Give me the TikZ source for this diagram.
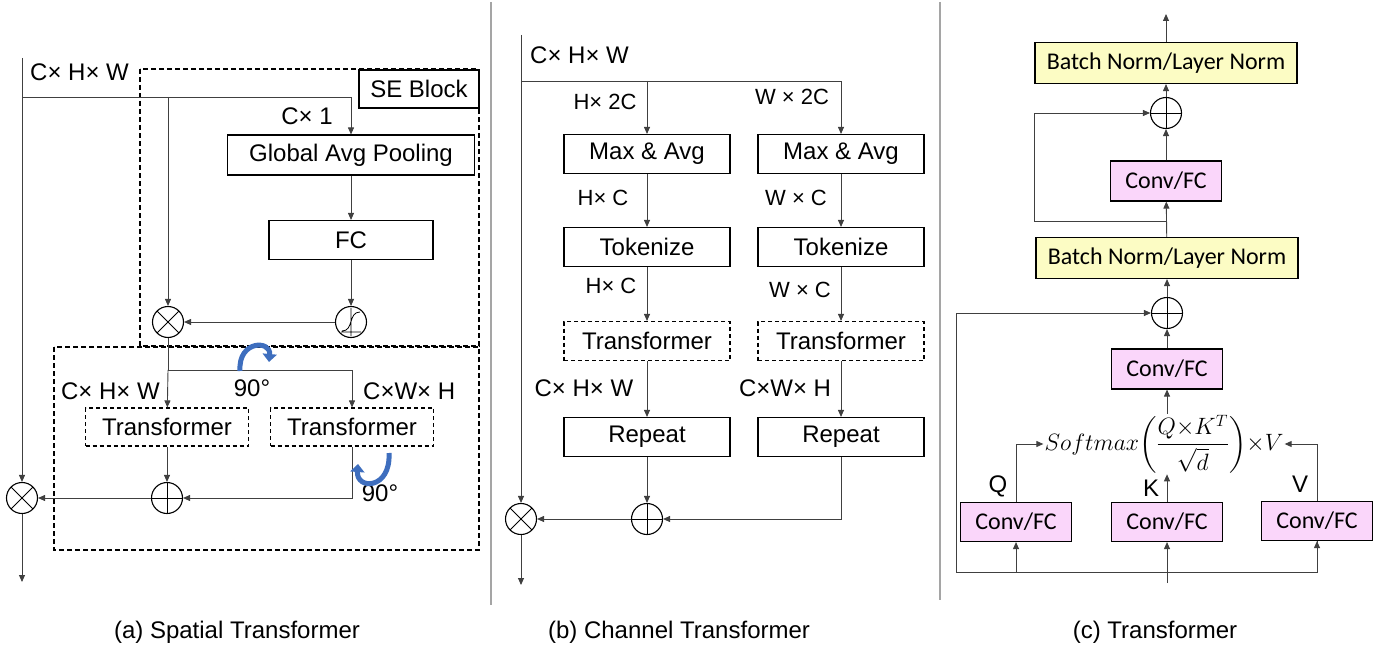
\documentclass[tikz,border=0pt]{standalone}
\usepackage{amsmath}
\usepackage{fontspec}
\setmainfont{Liberation Sans}
\newfontfamily\calibrifont{Carlito}
\usepackage{xcolor}
\usetikzlibrary{arrows.meta, positioning, calc}
\definecolor{yellowfill}{RGB}{252,252,196}
\definecolor{pinkfill}{RGB}{250,214,250}
\definecolor{rotblue}{RGB}{62,110,190}
\definecolor{sepgray}{RGB}{165,165,165}
\tikzset{
    >={Triangle[length=7pt,width=6pt]},
    link/.style={draw=black!75, line width=0.9pt},
    block/.style={draw, line width=1.1pt, rectangle, minimum height=39pt, minimum width=166pt, inner sep=0pt, font=\fontsize{24}{28}\selectfont},
    tblock/.style={block, dash pattern=on 4pt off 3pt},
    nblock/.style={block, fill=yellowfill, minimum width=262pt, minimum height=41pt, font=\calibrifont\fontsize{24}{28}\selectfont},
    cblock/.style={block, fill=pinkfill, minimum width=111pt, minimum height=40pt, font=\calibrifont\fontsize{24}{28}\selectfont},
    dimlbl/.style={inner sep=0pt, font=\fontsize{24}{28}\selectfont},
    sdimlbl/.style={inner sep=0pt, font=\fontsize{22}{26}\selectfont},
    opnode/.style={draw, circle, line width=1.1pt, minimum size=31pt, inner sep=0pt},
    addop/.style={opnode, path picture={\draw[line width=0.8pt] (path picture bounding box.north) -- (path picture bounding box.south) (path picture bounding box.west) -- (path picture bounding box.east);}},
    mulop/.style={opnode, path picture={\draw[line width=0.8pt] (path picture bounding box.north west) -- (path picture bounding box.south east) (path picture bounding box.north east) -- (path picture bounding box.south west);}},
    rotarrow/.style={draw=rotblue, line width=5pt, -{Triangle[length=8pt,width=14pt]}},
    seframe/.style={dash pattern=on 5pt off 3pt, line width=1.1pt},
    caption/.style={font=\fontsize{24}{28}\selectfont},
}

\begin{document}
\begin{tikzpicture}[x=1pt, y=-1pt]
    \useasboundingbox (0,0) rectangle (1380,650);

    % panel separators
    \draw[sepgray, line width=1.2pt] (491,2) -- (491,605);
    \draw[sepgray, line width=1.2pt] (940,2) -- (940,600);

    %% (a) spatial transformer
    \draw[seframe] (140,69) rectangle (479,346);
    \draw[seframe] (54,347) rectangle (479,550);
    \node[block, minimum width=120pt, minimum height=38pt] (seb) at (419,89) {SE Block};
    \node[block, minimum width=247pt, minimum height=40pt] (gap) at (351,155) {Global Avg Pooling};
    \node[block, minimum width=164pt] (fc) at (351,240) {FC};
    \node[opnode] (sig) at (351,322) {};
    \draw[line width=0.8pt, shift={(sig)}] (-10,10) -- (10,10) (0,-14) -- (0,14)
        (-9,9) .. controls (3,9) and (-3,-10) .. (9,-10);
    \node[mulop] (semul) at (168,322) {};
    \node[tblock, minimum width=163pt, minimum height=38pt] (atr1) at (167,427) {Transformer};
    \node[tblock, minimum width=163pt, minimum height=38pt] (atr2) at (352,427) {Transformer};
    \node[addop] (aadd) at (167,498) {};
    \node[mulop] (amul) at (22,498) {};
    \coordinate (ain) at (22,58);
    \coordinate (asplit) at (22,97);
    \coordinate (arot) at (168,370);
    \coordinate (aout) at (22,582);

    \node[dimlbl, anchor=west] (adim1) at (30,72) {C× H× W};
    \node[dimlbl] (adim2) at (307,116) {C× 1};
    \node[dimlbl, anchor=east] (adim3) at (160,391) {C× H× W};
    \node[dimlbl, anchor=west] (adim4) at (363,391) {C×W× H};
    \node[dimlbl] (arot1) at (252,388) {90°};
    \node[dimlbl] (arot2) at (380,493) {90°};

    \draw[link, ->] (ain) -- (amul);
    \draw[link, ->] (asplit) -| (gap);
    \draw[link, ->] (semul |- asplit) -- (semul);
    \draw[link, ->] (gap) -- (fc);
    \draw[link, ->] (fc) -- (sig);
    \draw[link, ->] (sig) -- (semul);
    \draw[link] (semul) -- (arot);
    \draw[link, ->] (arot) -- (atr1);
    \draw[link, ->] (arot) -| (atr2);
    \draw[link, ->] (atr1) -- (aadd);
    \draw[link, ->] (atr2) |- (aadd);
    \draw[link, ->] (aadd) -- (amul);
    \draw[link, ->] (amul) -- (aout);
    \draw[rotarrow] (240,371) .. controls (238,340) and (271,340) .. (269,362);
    \draw[rotarrow] (389,453) .. controls (391,490) and (356,490) .. (358,464);

    %% (b) channel transformer
    \node[block] (bmax1) at (647,154) {Max \& Avg};
    \node[block] (bmax2) at (841,154) {Max \& Avg};
    \node[block] (btok1) at (647,247) {Tokenize};
    \node[block] (btok2) at (841,247) {Tokenize};
    \node[tblock] (btr1) at (647,341) {Transformer};
    \node[tblock] (btr2) at (841,341) {Transformer};
    \node[block] (brep1) at (647,437) {Repeat};
    \node[block] (brep2) at (841,437) {Repeat};
    \node[addop] (badd) at (647,519) {};
    \node[mulop] (bmul) at (521,519) {};
    \coordinate (bin) at (521,35);
    \coordinate (bsplit) at (521,81);
    \coordinate (bout) at (521,585);

    \node[dimlbl, anchor=west] (bdim1) at (530,55) {C× H× W};
    \node[sdimlbl] (bdim2) at (605,102) {H× 2C};
    \node[sdimlbl] (bdim3) at (792,97) {W × 2C};
    \node[sdimlbl] (bdim4) at (603,198) {H× C};
    \node[sdimlbl] (bdim5) at (796,198) {W × C};
    \node[sdimlbl] (bdim6) at (611,286) {H× C};
    \node[sdimlbl] (bdim7) at (800,290) {W × C};
    \node[dimlbl] (bdim8) at (584,388) {C× H× W};
    \node[dimlbl] (bdim9) at (785,388) {C×W× H};

    \draw[link, ->] (bin) -- (bmul);
    \draw[link, ->] (bsplit) -| (bmax2);
    \draw[link, ->] (bmax1 |- bsplit) -- (bmax1);
    \draw[link, ->] (bmax1) -- (btok1);
    \draw[link, ->] (bmax2) -- (btok2);
    \draw[link, ->] (btok1) -- (btr1);
    \draw[link, ->] (btok2) -- (btr2);
    \draw[link, ->] (btr1) -- (brep1);
    \draw[link, ->] (btr2) -- (brep2);
    \draw[link, ->] (brep1) -- (badd);
    \draw[link, ->] (brep2) |- (badd);
    \draw[link, ->] (badd) -- (bmul);
    \draw[link, ->] (bmul) -- (bout);

    %% (c) transformer
    \node[nblock] (cbn1) at (1166,63) {Batch Norm/Layer Norm};
    \node[addop] (cadd1) at (1166,113) {};
    \node[cblock] (cfc1) at (1166,181) {Conv/FC};
    \node[nblock] (cbn2) at (1167,258) {Batch Norm/Layer Norm};
    \node[addop] (cadd2) at (1167,313) {};
    \node[cblock] (cfc2) at (1167,369) {Conv/FC};
    \node[inner sep=1pt, font=\fontsize{24}{28}\selectfont] (att) at (1164,444)
        {\scalebox{0.95}{$Softmax\!\left(\dfrac{Q{\times}K^{T}}{\sqrt{d}}\right)\!{\times}V$}};
    \node[cblock, minimum height=39pt] (cq) at (1016,522) {Conv/FC};
    \node[cblock, minimum height=39pt] (ck) at (1167,522) {Conv/FC};
    \node[cblock, minimum height=39pt] (cv) at (1317,521) {Conv/FC};
    \node[dimlbl] (lq) at (998,486) {Q};
    \node[dimlbl] (lk) at (1151,488) {K};
    \node[dimlbl] (lv) at (1300,484) {V};
    \coordinate (cout) at (1166,14);
    \coordinate (cskip) at (1167,221);
    \coordinate (cbase) at (1167,572);
    \coordinate (cin) at (1167,583);

    \draw[link, ->] (cbn1) -- (cout);
    \draw[link, ->] (cadd1) -- (cbn1);
    \draw[link, ->] (cfc1) -- (cadd1);
    \draw[link, ->] (cbn2) -- (cfc1);
    \draw[link, ->] (cskip) -- ++(-133,0) |- (cadd1);
    \draw[link, ->] (cadd2) -- (cbn2);
    \draw[link, ->] (cfc2) -- (cadd2);
    \draw[link, ->] (att.north -| cfc2) -- (cfc2);
    \draw[link, ->] (cbase) -- ++(-211,0) |- (cadd2);
    \draw[link] (cbase) -| (cv.south);
    \draw[link, ->] (cin) -- (ck);
    \draw[link, ->] (cq.south |- cbase) -- (cq);
    \draw[link, ->] (cv.south |- cbase) -- (cv);
    \draw[link, ->] (cq) |- (att.west);
    \draw[link, ->] (cv) |- (att.east);
    \draw[link, ->] (ck) -- (ck |- att.south);

    % captions
    \node[caption] (capa) at (237,632) {(a) Spatial Transformer};
    \node[caption] (capb) at (679,632) {(b) Channel Transformer};
    \node[caption] (capc) at (1155,632) {(c) Transformer};
\end{tikzpicture}
\end{document}
